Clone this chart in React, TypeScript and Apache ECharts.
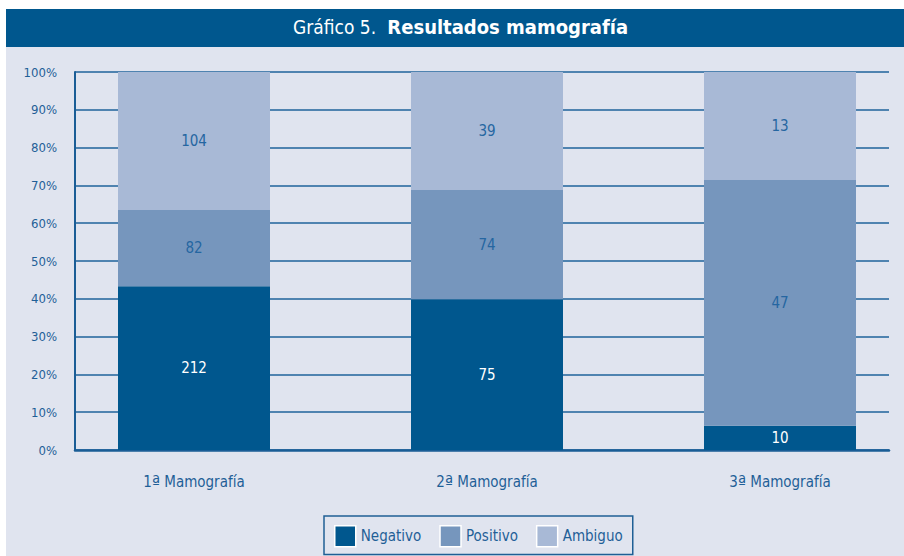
import React, { useEffect, useRef } from 'react';
import * as echarts from 'echarts';

const categories = ['1ª Mamografía', '2ª Mamografía', '3ª Mamografía'];
const seriesNames = ['Negativo', 'Positivo', 'Ambiguo'];
// segment heights (% of bar) as drawn
const negativoPct = [43.3, 39.9, 6.4];
const positivoPct = [20.2, 28.9, 65.0];
const ambiguoPct = [36.5, 31.2, 28.6];
// counts written on the segments
const negativoN = [212, 75, 10];
const positivoN = [82, 74, 47];
const ambiguoN = [104, 39, 13];

const FONT = "'DejaVu Sans Condensed', 'Liberation Sans Narrow', sans-serif";
const BLUE_TXT = '#1f5f97';
const C_NEG = '#00578e';
const C_POS = '#7696bd';
const C_AMB = '#a8b9d6';
const BG = '#e0e4ef';

export default function App() {
  const ref = useRef<HTMLDivElement>(null);
  useEffect(() => {
    document.body.style.margin = '0';
    const chart = echarts.init(ref.current!, undefined, { renderer: 'svg' });
    const mkSeries = (name: string, pct: number[], counts: number[], color: string, labelColor: string) => ({
      name,
      type: 'bar',
      stack: 'total',
      xAxisIndex: 1,
      yAxisIndex: 1,
      barWidth: 152,
      clip: false,
      data: pct,
      itemStyle: { color },
      label: {
        show: true,
        position: 'inside',
        color: labelColor,
        fontSize: 15,
        fontFamily: FONT,
        formatter: (p: any) => String(counts[p.dataIndex]),
      },
    });
    chart.setOption({
      animation: false,
      backgroundColor: '#ffffff',
      textStyle: { fontFamily: FONT },
      graphic: [
        { type: 'rect', z: -100, shape: { x: 6, y: 9, width: 898, height: 38 }, style: { fill: C_NEG } },
        { type: 'rect', z: -100, shape: { x: 6, y: 47, width: 898, height: 509 }, style: { fill: BG } },
      ],
      title: {
        text: '{a|Gráfico 5.}  {b|Resultados mamografía}',
        left: 293,
        top: 17,
        padding: 0,
        textStyle: {
          rich: {
            a: { color: '#ffffff', fontSize: 19, fontFamily: FONT, fontWeight: 'normal' },
            b: { color: '#ffffff', fontSize: 20, fontFamily: FONT, fontWeight: 'bold' },
          },
        },
      },
      legend: {
        data: seriesNames,
        left: 324,
        top: 516,
        orient: 'horizontal',
        itemWidth: 21,
        itemHeight: 21,
        itemGap: 18,
        padding: [9, 10, 7, 10],
        borderColor: '#1f5f95',
        borderWidth: 1.5,
        icon: 'rect',
        itemStyle: { borderColor: '#ffffff', borderWidth: 1.5 },
        textStyle: { color: BLUE_TXT, fontSize: 15, fontFamily: FONT },
      },
      grid: [
        { left: 75, top: 72, width: 814, height: 378 },
        { left: 194, top: 72, width: 586, height: 378 },
      ],
      xAxis: [
        {
          gridIndex: 0,
          type: 'category',
          data: categories,
          axisLine: { show: true, lineStyle: { color: '#1a5d96', width: 2.5 } },
          axisTick: { show: false },
          axisLabel: { show: false },
        },
        {
          gridIndex: 1,
          type: 'category',
          boundaryGap: false,
          data: categories,
          axisLine: { show: false },
          axisTick: { show: false },
          axisLabel: {
            color: BLUE_TXT,
            fontSize: 15,
            fontFamily: FONT,
            margin: 22,
            formatter: (v: string) => `{n|${v.slice(0, 1)}}{s|${v.slice(1, 2)}}{n|${v.slice(2)}}`,
            rich: {
              n: { color: BLUE_TXT, fontSize: 15, fontFamily: FONT },
              s: { color: BLUE_TXT, fontSize: 19, fontFamily: FONT },
            },
          },
        },
      ],
      yAxis: [
        {
          gridIndex: 0,
          type: 'value',
          min: 0,
          max: 100,
          interval: 10,
          axisLine: { show: true, lineStyle: { color: '#1a5d96', width: 2 } },
          axisTick: { show: false },
          axisLabel: { formatter: '{value}%', color: BLUE_TXT, fontSize: 13, fontFamily: FONT, margin: 18 },
          splitLine: { show: true, lineStyle: { color: '#1f639b', width: 1.5 } },
        },
        { gridIndex: 1, type: 'value', min: 0, max: 100, show: false },
      ],
      series: [
        mkSeries('Negativo', negativoPct, negativoN, C_NEG, '#ffffff'),
        mkSeries('Positivo', positivoPct, positivoN, C_POS, '#2566a1'),
        mkSeries('Ambiguo', ambiguoPct, ambiguoN, C_AMB, '#2566a1'),
      ],
    });
    return () => chart.dispose();
  }, []);
  return <div ref={ref} style={{ width: 904, height: 556 }} />;
}
